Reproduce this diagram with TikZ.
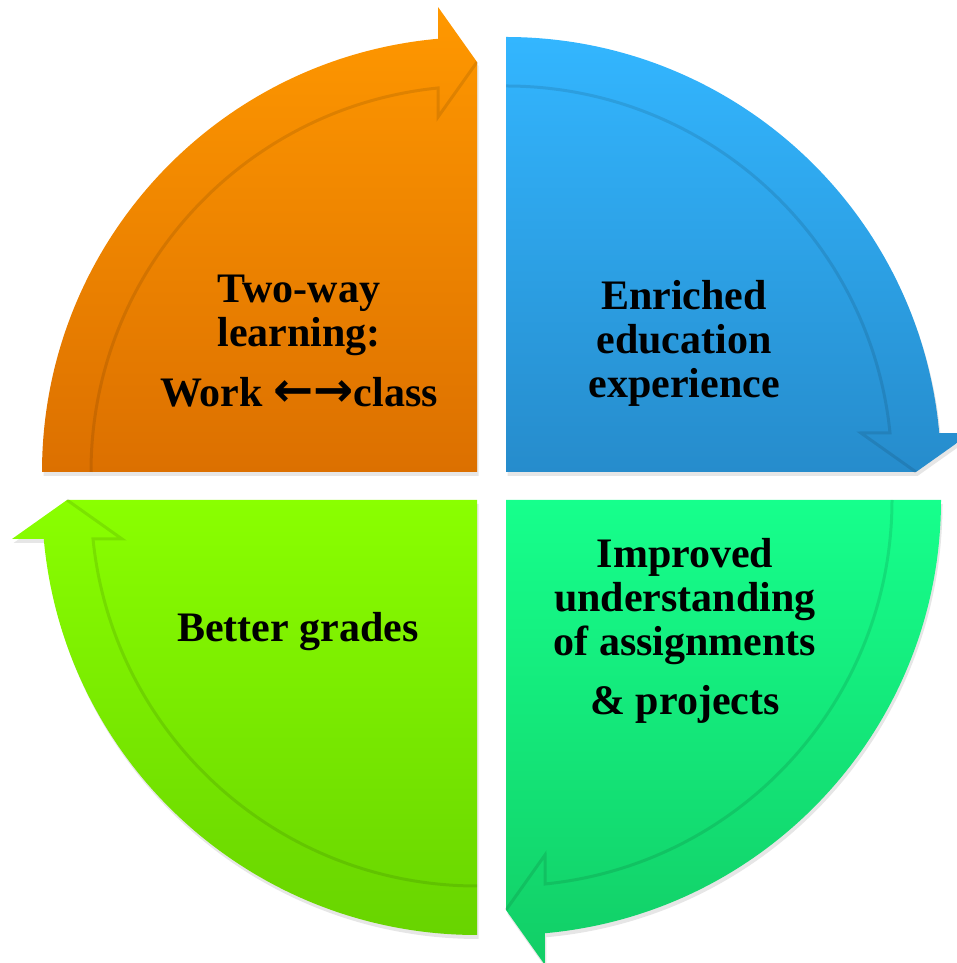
\documentclass[tikz,border=0pt]{standalone}
\usepackage{fontspec}
\setmainfont{Liberation Serif}
\newfontfamily\arrowfont{DejaVu Sans}
\usetikzlibrary{calc,shadows}
\definecolor{orangetop}{RGB}{255,152,0}
\definecolor{orangebot}{RGB}{220,112,0}
\definecolor{bluetop}{RGB}{51,182,255}
\definecolor{bluebot}{RGB}{38,140,204}
\definecolor{greentop}{RGB}{22,255,140}
\definecolor{greenbot}{RGB}{18,206,102}
\definecolor{limetop}{RGB}{138,255,0}
\definecolor{limebot}{RGB}{104,212,0}
\tikzset{
  quarter/.style={draw=none,drop shadow={shadow xshift=1.5pt,shadow yshift=-4pt,opacity=0.2}},
  bandedge/.style={draw=black,opacity=0.10,line width=3pt},
  labeltext/.style={font=\fontsize{42}{44}\selectfont\bfseries,align=center,anchor=base,inner sep=0pt,text=black}
}
% #1 corner, #2 rotation, #3 top colour, #4 bottom colour
\newcommand{\quarterdisc}[4]{%
  \begin{scope}[shift={(#1)}]
    \path[quarter,top color=#3,bottom color=#4] (0,0) -- (#2+180:435) arc (#2+180:#2+95.14:435)
      -- (#2+94.79:466.6) -- (#2+90:410) -- cycle;% quarto di cerchio con freccia
    \draw[bandedge] (#2+180:386) arc (#2+180:#2+95.8:386) -- (#2+96.27:357.1) -- (#2+90:410);% bordo interno della fascia
  \end{scope}}
\begin{document}
\begin{tikzpicture}[x=1pt,y=1pt]
  \useasboundingbox (0,0) rectangle (957,963);
  \coordinate(c1) at (477,491);
  \coordinate(c2) at (506,491);
  \coordinate(c3) at (506,463);
  \coordinate(c4) at (477,463);
  \quarterdisc{c1}{0}{orangetop}{orangebot}% arancio
  \quarterdisc{c2}{-90}{bluetop}{bluebot}% blu
  \quarterdisc{c3}{-180}{greentop}{greenbot}% verde
  \quarterdisc{c4}{-270}{limetop}{limebot}% verde chiaro
  \node[labeltext] (work) at (299,556) {Two-way\\learning:\\[16pt]Work {\arrowfont\fontsize{48}{44}\selectfont ←→}class};
  \node[labeltext] (enriched) at (684,565) {Enriched\\education\\experience};
  \node[labeltext] (improved) at (685,248) {Improved\\understanding\\of assignments\\[15pt]\& projects};
  \node[labeltext] (grades) at (298,321) {Better grades};
\end{tikzpicture}
\end{document}
